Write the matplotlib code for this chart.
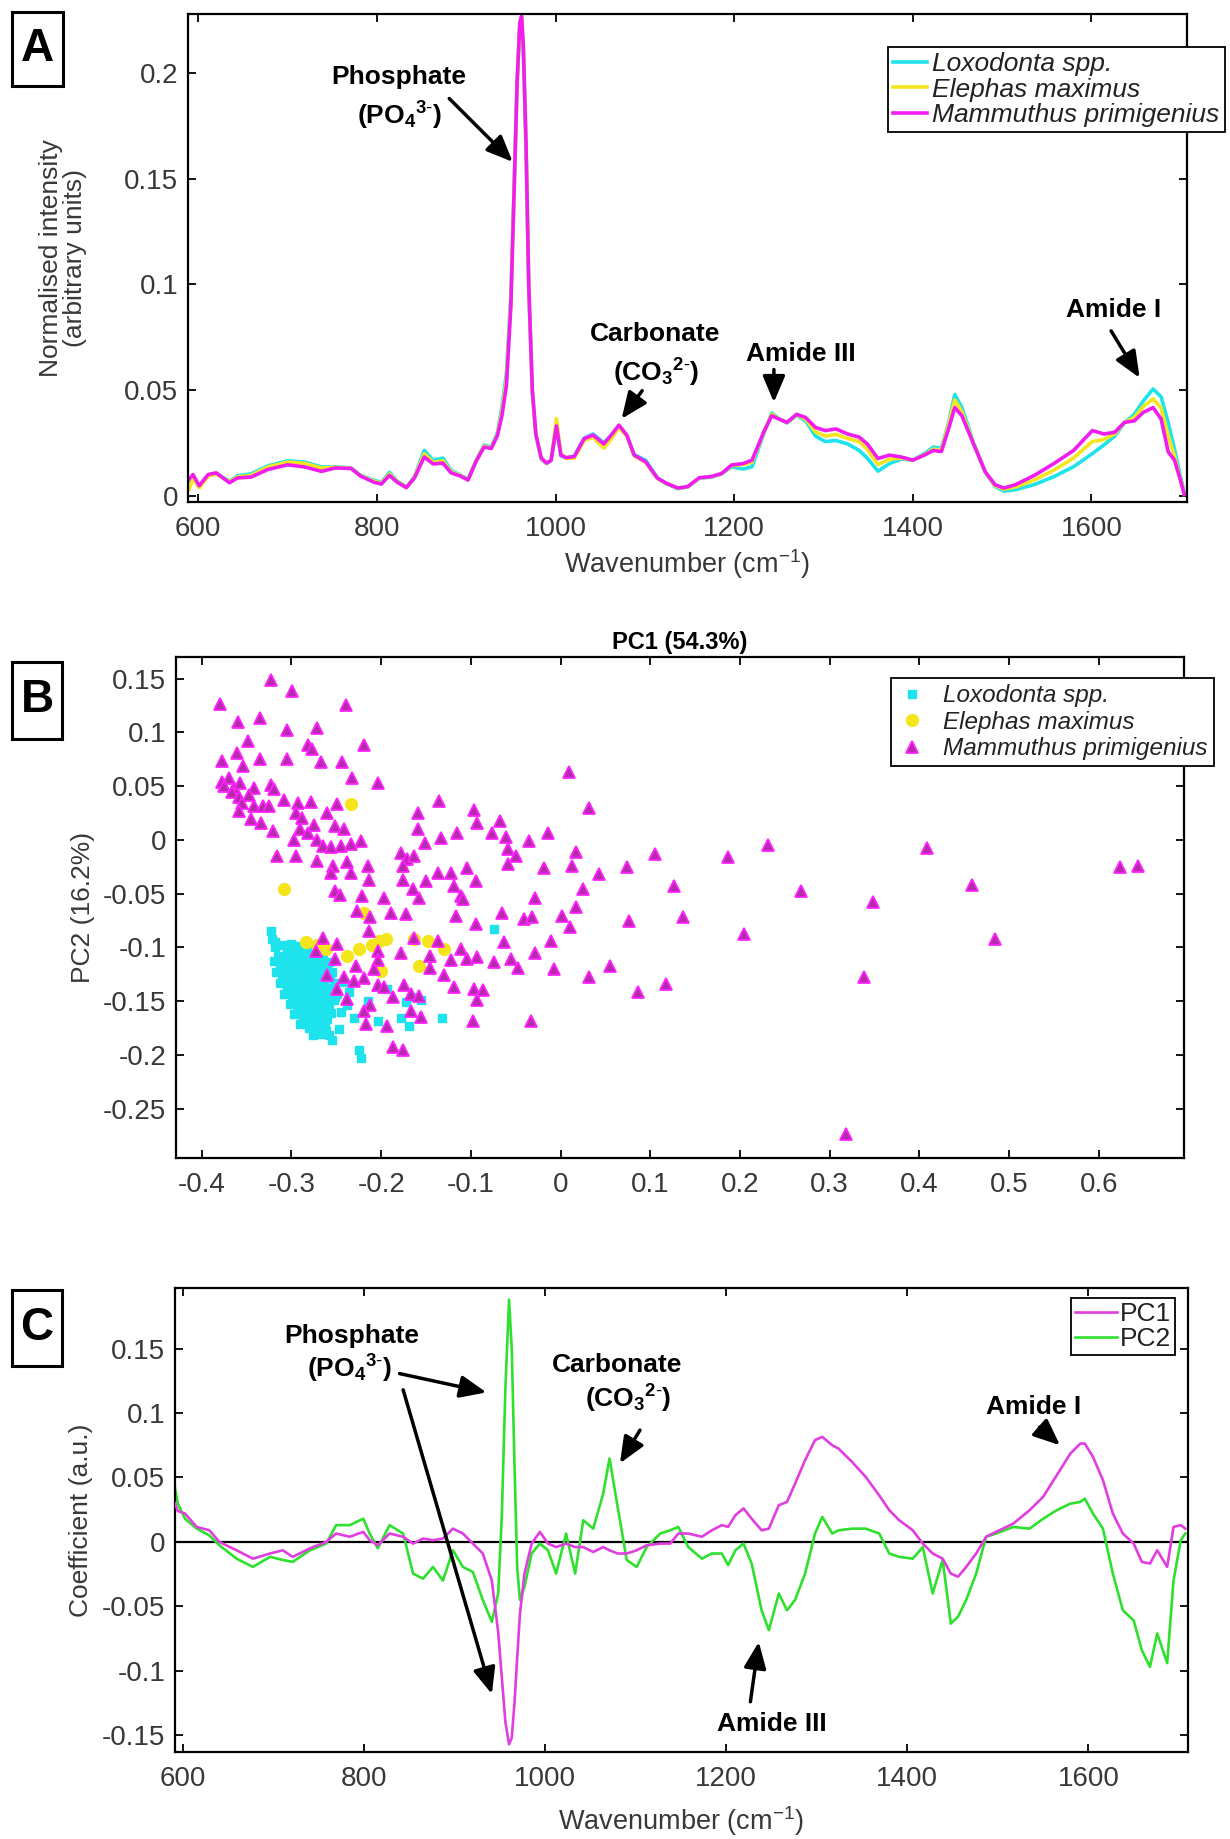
import numpy as np
import matplotlib
matplotlib.use('Agg')
import matplotlib.pyplot as plt
from matplotlib.patches import Rectangle

plt.rcParams['font.family'] = ['Liberation Sans', 'DejaVu Sans']
plt.rcParams['mathtext.fontset'] = 'custom'
plt.rcParams['mathtext.rm'] = 'Liberation Sans'
plt.rcParams['mathtext.bf'] = 'Liberation Sans:bold'
plt.rcParams['mathtext.it'] = 'Liberation Sans:italic'
plt.rcParams['mathtext.default'] = 'regular'

# ---- panel A: mean spectra ----
wn = [590, 594, 601, 611, 620, 635, 644, 659, 678, 700,
      719, 738, 753, 771, 782, 797, 805, 814, 823, 833,
      842, 853, 863, 874, 883, 894, 902, 911, 920, 928,
      935, 940, 945, 950, 954, 957, 960, 962, 964, 967,
      970, 974, 978, 984, 990, 995, 1001, 1006, 1012, 1021,
      1032, 1042, 1054, 1062, 1071, 1080, 1088, 1101, 1114, 1124,
      1137, 1148, 1161, 1174, 1186, 1197, 1210, 1220, 1233, 1242,
      1250, 1259, 1270, 1280, 1291, 1302, 1314, 1327, 1340, 1349,
      1361, 1374, 1387, 1400, 1413, 1423, 1432, 1440, 1447, 1455,
      1468, 1481, 1492, 1502, 1515, 1537, 1558, 1580, 1601, 1614,
      1626, 1637, 1648, 1658, 1669, 1678, 1686, 1693, 1699, 1704]

loxodonta = [0.0063, 0.0089, 0.0042, 0.0094, 0.0105, 0.0068, 0.0094, 0.0103, 0.0141, 0.0165,
             0.0159, 0.0136, 0.0136, 0.0132, 0.0096, 0.0072, 0.0063, 0.0110, 0.0068, 0.0042,
             0.0089, 0.0214, 0.0167, 0.0178, 0.0120, 0.0096, 0.0079, 0.0167, 0.0240, 0.0230,
             0.0300, 0.0420, 0.0580, 0.0950, 0.1520, 0.1960, 0.2220, 0.2250, 0.2100, 0.1640,
             0.0980, 0.0490, 0.0285, 0.0172, 0.0152, 0.0167, 0.0323, 0.0188, 0.0178, 0.0188,
             0.0272, 0.0292, 0.0251, 0.0282, 0.0329, 0.0282, 0.0194, 0.0168, 0.0085, 0.0056,
             0.0033, 0.0041, 0.0083, 0.0087, 0.0103, 0.0137, 0.0126, 0.0137, 0.0292, 0.0391,
             0.0365, 0.0344, 0.0380, 0.0354, 0.0282, 0.0256, 0.0261, 0.0245, 0.0214, 0.0178,
             0.0116, 0.0152, 0.0173, 0.0168, 0.0199, 0.0230, 0.0225, 0.0344, 0.0479, 0.0417,
             0.0251, 0.0111, 0.0043, 0.0022, 0.0028, 0.0054, 0.0090, 0.0137, 0.0199, 0.0240,
             0.0282, 0.0344, 0.0385, 0.0448, 0.0505, 0.0468, 0.0344, 0.0220, 0.0105, 0.0012]

elephas = [0.0032, 0.0084, 0.0037, 0.0092, 0.0103, 0.0065, 0.0089, 0.0096, 0.0136, 0.0159,
           0.0153, 0.0131, 0.0134, 0.0130, 0.0094, 0.0068, 0.0059, 0.0103, 0.0065, 0.0040,
           0.0086, 0.0198, 0.0157, 0.0165, 0.0113, 0.0094, 0.0076, 0.0165, 0.0235, 0.0225,
           0.0292, 0.0400, 0.0550, 0.0920, 0.1500, 0.1950, 0.2230, 0.2260, 0.2110, 0.1650,
           0.0990, 0.0495, 0.0288, 0.0175, 0.0153, 0.0169, 0.0365, 0.0198, 0.0176, 0.0178,
           0.0261, 0.0276, 0.0225, 0.0266, 0.0323, 0.0280, 0.0188, 0.0157, 0.0081, 0.0058,
           0.0035, 0.0042, 0.0084, 0.0089, 0.0104, 0.0142, 0.0147, 0.0159, 0.0297, 0.0385,
           0.0363, 0.0346, 0.0383, 0.0362, 0.0302, 0.0282, 0.0290, 0.0271, 0.0256, 0.0220,
           0.0147, 0.0173, 0.0178, 0.0168, 0.0194, 0.0220, 0.0217, 0.0334, 0.0453, 0.0396,
           0.0248, 0.0112, 0.0047, 0.0031, 0.0041, 0.0076, 0.0121, 0.0178, 0.0256, 0.0266,
           0.0292, 0.0346, 0.0370, 0.0422, 0.0458, 0.0416, 0.0282, 0.0188, 0.0090, 0.0007]

mammuthus = [0.0079, 0.0100, 0.0047, 0.0100, 0.0108, 0.0061, 0.0084, 0.0088, 0.0124, 0.0146,
             0.0136, 0.0115, 0.0131, 0.0129, 0.0092, 0.0063, 0.0055, 0.0096, 0.0063, 0.0038,
             0.0084, 0.0183, 0.0150, 0.0154, 0.0108, 0.0092, 0.0074, 0.0162, 0.0230, 0.0223,
             0.0285, 0.0380, 0.0520, 0.0900, 0.1500, 0.1960, 0.2240, 0.2270, 0.2120, 0.1660,
             0.1000, 0.0500, 0.0290, 0.0178, 0.0154, 0.0167, 0.0330, 0.0192, 0.0180, 0.0185,
             0.0270, 0.0287, 0.0245, 0.0285, 0.0334, 0.0285, 0.0192, 0.0160, 0.0083, 0.0059,
             0.0036, 0.0043, 0.0085, 0.0090, 0.0105, 0.0145, 0.0152, 0.0168, 0.0300, 0.0378,
             0.0363, 0.0347, 0.0385, 0.0370, 0.0323, 0.0308, 0.0316, 0.0292, 0.0277, 0.0245,
             0.0176, 0.0192, 0.0183, 0.0168, 0.0192, 0.0214, 0.0209, 0.0316, 0.0417, 0.0378,
             0.0245, 0.0114, 0.0052, 0.0036, 0.0052, 0.0098, 0.0152, 0.0214, 0.0308, 0.0292,
             0.0300, 0.0347, 0.0354, 0.0394, 0.0417, 0.0363, 0.0207, 0.0168, 0.0083, 0.0005]

species = ['Loxodonta spp.', 'Elephas maximus', 'Mammuthus primigenius']

# ---- panel B: PCA scores ----
lox_pc1 = [-0.323, -0.322, -0.318, -0.310, -0.300, -0.290, -0.280, -0.270,
           -0.315, -0.305, -0.296, -0.286, -0.276, -0.266, -0.258,
           -0.313, -0.303, -0.294, -0.284, -0.274, -0.264, -0.255,
           -0.310, -0.300, -0.291, -0.281, -0.271, -0.261, -0.252,
           -0.305, -0.296, -0.287, -0.277, -0.267, -0.257, -0.249,
           -0.299, -0.290, -0.281, -0.271, -0.262, -0.253,
           -0.293, -0.284, -0.275, -0.265, -0.256,
           -0.287, -0.278, -0.269, -0.260,
           -0.280, -0.272, -0.263, -0.268, -0.258, -0.255,
           -0.318, -0.305, -0.295, -0.285, -0.275, -0.265,
           -0.320, -0.309, -0.299, -0.289, -0.279, -0.269, -0.260,
           -0.317, -0.307, -0.297, -0.287, -0.277, -0.267, -0.257,
           -0.313, -0.303, -0.294, -0.284, -0.274, -0.264, -0.254,
           -0.308, -0.299, -0.290, -0.280, -0.270, -0.260, -0.251,
           -0.302, -0.294, -0.285, -0.276, -0.267, -0.258,
           -0.297, -0.289, -0.280, -0.270, -0.261,
           -0.290, -0.283, -0.274, -0.265,
           -0.276, -0.262,
           -0.247, -0.238, -0.230, -0.241, -0.225, -0.223, -0.204, -0.178, -0.169,
           -0.172, -0.132, -0.074, -0.163, -0.156, -0.193, -0.215, -0.245, -0.236]
lox_pc2 = [-0.085, -0.092, -0.100, -0.098, -0.097, -0.099, -0.100, -0.103,
           -0.108, -0.106, -0.110, -0.107, -0.109, -0.111, -0.114,
           -0.118, -0.116, -0.120, -0.118, -0.121, -0.119, -0.123,
           -0.128, -0.126, -0.130, -0.128, -0.131, -0.129, -0.133,
           -0.138, -0.136, -0.140, -0.138, -0.141, -0.139, -0.143,
           -0.148, -0.146, -0.150, -0.148, -0.151, -0.149,
           -0.158, -0.156, -0.160, -0.158, -0.161,
           -0.167, -0.165, -0.169, -0.167,
           -0.175, -0.177, -0.174, -0.181, -0.182, -0.186,
           -0.095, -0.102, -0.103, -0.103, -0.105, -0.106,
           -0.113, -0.112, -0.114, -0.113, -0.115, -0.115, -0.118,
           -0.123, -0.122, -0.124, -0.123, -0.125, -0.125, -0.128,
           -0.133, -0.132, -0.134, -0.133, -0.135, -0.135, -0.138,
           -0.143, -0.142, -0.144, -0.143, -0.145, -0.144, -0.146,
           -0.153, -0.152, -0.154, -0.153, -0.155, -0.155,
           -0.162, -0.161, -0.163, -0.163, -0.164,
           -0.171, -0.170, -0.172, -0.172,
           -0.182, -0.178,
           -0.176, -0.154, -0.166, -0.132, -0.196, -0.203, -0.169, -0.166, -0.173,
           -0.151, -0.166, -0.083, -0.146, -0.149, -0.139, -0.150, -0.160, -0.142]

ele_pc1 = [-0.234, -0.308, -0.219, -0.284, -0.262, -0.238, -0.225, -0.202,
           -0.195, -0.200, -0.163, -0.148, -0.130, -0.158, -0.272, -0.210]
ele_pc2 = [0.033, -0.046, -0.068, -0.095, -0.102, -0.108, -0.102, -0.094,
           -0.092, -0.122, -0.092, -0.094, -0.102, -0.117, -0.098, -0.098]

mam_pc1 = [-0.323, -0.299, -0.380, -0.239, -0.360, -0.335, -0.305, -0.272, -0.348, -0.282,
           -0.277, -0.219, -0.361, -0.377, -0.335, -0.305, -0.354, -0.267, -0.244, -0.233,
           -0.203, 0.009, -0.377, -0.370, -0.375, -0.364, -0.357, -0.366, -0.358, -0.342,
           -0.347, -0.323, -0.319, -0.355, -0.342, -0.332, -0.325, -0.358, -0.345, -0.334,
           -0.308, -0.293, -0.278, -0.321, -0.316, -0.295, -0.288, -0.297, -0.295, -0.290,
           -0.282, -0.275, -0.271, -0.260, -0.249, -0.251, -0.241, -0.265, -0.256, -0.245,
           -0.234, -0.223, -0.271, -0.254, -0.238, -0.215, -0.256, -0.234, -0.213, -0.252,
           -0.246, -0.221, -0.197, -0.227, -0.212, -0.189, -0.172, -0.213, -0.159, -0.135,
           -0.096, -0.093, -0.067, 0.032, -0.159, -0.151, -0.133, -0.115, -0.076, -0.061,
           -0.035, -0.014, -0.059, -0.050, 0.017, -0.059, -0.178, -0.171, -0.176, -0.163,
           -0.018, 0.013, -0.137, -0.122, -0.104, -0.176, -0.150, -0.094, -0.165, -0.158,
           -0.119, -0.111, -0.109, 0.025, -0.028, -0.117, -0.094, -0.065, -0.041, -0.032,
           0.002, 0.017, 0.011, -0.063, -0.011, -0.265, -0.249, -0.163, -0.137, -0.273,
           -0.251, -0.204, -0.204, -0.228, -0.208, -0.178, -0.145, -0.145, -0.122, -0.111,
           -0.104, -0.093, -0.074, -0.055, -0.048, -0.028, -0.007, 0.032, -0.260, -0.241,
           -0.230, -0.219, -0.204, -0.197, -0.249, -0.238, -0.187, -0.174, -0.167, -0.158,
           -0.130, -0.119, -0.096, -0.087, -0.093, -0.212, -0.219, -0.167, -0.156, -0.217,
           -0.193, -0.098, -0.033, -0.187, -0.176,
           0.043, 0.074, 0.105, 0.127, 0.136, 0.076, 0.055, 0.086, 0.117, 0.187,
           0.231, 0.205, 0.268, 0.348, 0.338, 0.318, 0.409, 0.459, 0.484, 0.624, 0.644]
mam_pc2 = [0.149, 0.138, 0.126, 0.125, 0.110, 0.113, 0.102, 0.104, 0.092, 0.088,
           0.084, 0.088, 0.081, 0.073, 0.075, 0.075, 0.069, 0.072, 0.072, 0.057,
           0.053, 0.063, 0.054, 0.057, 0.050, 0.048, 0.053, 0.044, 0.040, 0.048,
           0.042, 0.051, 0.047, 0.034, 0.031, 0.031, 0.031, 0.027, 0.019, 0.016,
           0.037, 0.034, 0.035, 0.008, -0.015, 0.025, 0.020, 0.000, -0.015, 0.010,
           0.006, 0.014, 0.000, 0.025, 0.033, 0.013, 0.010, -0.006, -0.007, -0.006,
           -0.004, -0.001, -0.020, -0.024, -0.021, -0.024, -0.031, -0.031, -0.037, -0.048,
           -0.051, -0.052, -0.054, -0.066, -0.072, -0.068, -0.069, -0.085, 0.025, 0.036,
           0.028, 0.016, 0.017, 0.030, 0.010, -0.003, 0.002, 0.006, 0.006, 0.003,
           -0.001, 0.006, -0.009, -0.015, -0.011, -0.023, -0.012, -0.018, -0.024, -0.015,
           -0.026, -0.024, -0.031, -0.031, -0.026, -0.037, -0.038, -0.038, -0.046, -0.054,
           -0.043, -0.052, -0.055, -0.046, -0.054, -0.071, -0.078, -0.068, -0.074, -0.072,
           -0.071, -0.063, -0.081, -0.095, -0.094, -0.091, -0.097, -0.091, -0.094, -0.103,
           -0.111, -0.103, -0.112, -0.117, -0.120, -0.105, -0.108, -0.119, -0.112, -0.102,
           -0.111, -0.109, -0.114, -0.111, -0.119, -0.105, -0.120, -0.128, -0.126, -0.128,
           -0.131, -0.129, -0.135, -0.137, -0.139, -0.148, -0.146, -0.135, -0.143, -0.145,
           -0.126, -0.137, -0.139, -0.140, -0.149, -0.154, -0.159, -0.159, -0.165, -0.171,
           -0.173, -0.169, -0.169, -0.193, -0.196,
           -0.032, -0.025, -0.013, -0.043, -0.072, -0.076, -0.117, -0.142, -0.134, -0.016,
           -0.005, -0.088, -0.048, -0.058, -0.128, -0.274, -0.008, -0.042, -0.092, -0.025, -0.024]

# ---- panel C: PCA loadings ----
pc_wn = [591, 594, 602, 615, 629, 640, 659, 677, 696, 710,
         721, 740, 758, 769, 784, 799, 806, 815, 828, 843,
         854, 865, 876, 887, 898, 909, 920, 931, 941, 948,
         952, 956, 960, 963, 966, 969, 972, 977, 985, 994,
         1003, 1012, 1023, 1033, 1042, 1053, 1064, 1071, 1080, 1090,
         1101, 1112, 1127, 1138, 1147, 1158, 1173, 1184, 1195, 1202,
         1210, 1219, 1228, 1239, 1247, 1258, 1267, 1276, 1287, 1298,
         1306, 1317, 1324, 1339, 1354, 1369, 1380, 1391, 1406, 1417,
         1428, 1439, 1448, 1456, 1465, 1476, 1487, 1498, 1517, 1535,
         1550, 1565, 1580, 1591, 1596, 1605, 1616, 1627, 1638, 1650,
         1659, 1668, 1676, 1687, 1694, 1702, 1707]
pc1_load = [0.030, 0.024, 0.022, 0.0116, 0.009, 0.000, -0.0065, -0.013, -0.009, -0.0065,
            -0.0116, -0.005, 0.000, 0.0065, 0.004, 0.0078, 0.0013, -0.0026, 0.0065, 0.004,
            -0.0013, 0.0026, 0.0013, 0.0026, 0.0103, 0.0065, -0.0013, -0.009, -0.030, -0.070,
            -0.105, -0.140, -0.157, -0.152, -0.125, -0.090, -0.056, -0.0246, -0.0013, 0.0078,
            -0.0013, -0.004, -0.0013, -0.004, -0.004, -0.0078, -0.004, -0.0065, -0.009, -0.009,
            -0.0065, -0.0026, -0.0013, -0.0013, 0.0065, 0.0065, 0.004, 0.009, 0.013, 0.0116,
            0.0207, 0.026, 0.018, 0.009, 0.0103, 0.0285, 0.031, 0.0453, 0.0634, 0.079,
            0.0815, 0.075, 0.0724, 0.062, 0.0504, 0.036, 0.0246, 0.0168, 0.009, -0.0013,
            -0.009, -0.013, -0.0246, -0.027, -0.0194, -0.009, 0.004, 0.0078, 0.0142, 0.0246,
            0.035, 0.0517, 0.0685, 0.0763, 0.0763, 0.066, 0.048, 0.022, 0.0065, -0.0013,
            -0.0155, -0.0168, -0.0065, -0.0194, 0.0116, 0.013, 0.0103]
pc2_load = [0.042, 0.030, 0.018, 0.0103, 0.005, -0.0026, -0.013, -0.0194, -0.0116, -0.014,
            -0.0155, -0.0065, -0.0013, 0.013, 0.013, 0.018, 0.0065, -0.005, 0.013, 0.0065,
            -0.0246, -0.0285, -0.0194, -0.030, -0.0065, -0.0194, -0.0233, -0.045, -0.062, -0.040,
            0.020, 0.120, 0.188, 0.150, 0.060, -0.020, -0.045, -0.035, -0.009, -0.0013,
            -0.0065, -0.0246, 0.0065, -0.0246, 0.0168, 0.0103, 0.0375, 0.0647, 0.027, -0.014,
            -0.0194, -0.004, 0.0065, 0.009, 0.0116, -0.004, -0.013, -0.009, -0.009, -0.018,
            -0.0065, -0.0013, -0.0168, -0.053, -0.0685, -0.040, -0.053, -0.045, -0.0246, 0.0065,
            0.0194, 0.0065, 0.009, 0.0103, 0.0103, 0.0065, -0.009, -0.0116, -0.013, -0.004,
            -0.040, -0.014, -0.0634, -0.058, -0.045, -0.0246, 0.004, 0.0065, 0.0116, 0.0103,
            0.018, 0.0246, 0.0297, 0.031, 0.0336, 0.022, 0.0103, -0.0246, -0.053, -0.061,
            -0.084, -0.097, -0.071, -0.094, -0.030, 0.0013, 0.0065]

# tick labels (MATLAB style, plain hyphen)
wn_ticks = [600, 800, 1000, 1200, 1400, 1600]
a_yticks = [0, 0.05, 0.1, 0.15, 0.2]
a_ylabels = ['0', '0.05', '0.1', '0.15', '0.2']
b_xticks = [-0.4, -0.3, -0.2, -0.1, 0, 0.1, 0.2, 0.3, 0.4, 0.5, 0.6]
b_xlabels = ['-0.4', '-0.3', '-0.2', '-0.1', '0', '0.1', '0.2', '0.3', '0.4', '0.5', '0.6']
b_yticks = [-0.25, -0.2, -0.15, -0.1, -0.05, 0, 0.05, 0.1, 0.15]
b_ylabels = ['-0.25', '-0.2', '-0.15', '-0.1', '-0.05', '0', '0.05', '0.1', '0.15']
c_yticks = [-0.15, -0.1, -0.05, 0, 0.05, 0.1, 0.15]
c_ylabels = ['-0.15', '-0.1', '-0.05', '0', '0.05', '0.1', '0.15']

CYAN = '#1fe3ec'
YELLOW = '#f5e51c'
MAGENTA = '#f01cf0'
TICKC = '#383838'

W, H = 1230, 1839
fig = plt.figure(figsize=(W / 100, H / 100), dpi=100)


def ax_px(l, t, r, b):
    return fig.add_axes([l / W, 1 - b / H, (r - l) / W, (b - t) / H])


def style(ax):
    for s in ax.spines.values():
        s.set_linewidth(1.6)
    ax.tick_params(direction='in', top=True, right=True, length=6, width=1.3,
                   labelsize=20, labelcolor=TICKC)
    ax.tick_params(axis='x', pad=10)
    ax.tick_params(axis='y', pad=7)


def panel_letter(letter, l, t, r, b):
    fig.patches.append(Rectangle((l / W, 1 - b / H), (r - l) / W, (b - t) / H,
                                 transform=fig.transFigure, fill=False,
                                 edgecolor='k', lw=2.2))
    fig.text((l + r) / 2 / W, 1 - (t + b) / 2 / H, letter, ha='center', va='center',
             fontsize=33, fontweight='bold')


arrow = dict(arrowstyle='-|>,head_length=0.8,head_width=0.34', color='k', lw=2.5,
             mutation_scale=20, shrinkA=0, shrinkB=0)


def note(ax, tip, tail):
    ax.annotate('', xy=tip, xytext=tail, arrowprops=arrow)


def label(ax, x, y, s):
    ax.text(x, y, s, ha='center', va='center', fontsize=19, fontweight='bold')


PO4 = r'(PO$_\mathbf{4}$$^{\mathbf{3}\text{-}}$)'
CO3 = r'(CO$_\mathbf{3}$$^{\mathbf{2}\text{-}}$)'

# ---------------- A ----------------
axA = ax_px(188, 14, 1187, 502)
axA.plot(wn, loxodonta, color=CYAN, lw=2.6, label=species[0])
axA.plot(wn, elephas, color=YELLOW, lw=2.6, label=species[1])
axA.plot(wn, mammuthus, color=MAGENTA, lw=2.6, label=species[2])
axA.set_xlim(588.5, 1707)
axA.set_ylim(-0.003, 0.228)
axA.set_xticks(wn_ticks)
axA.set_yticks(a_yticks, labels=a_ylabels)
style(axA)
axA.set_xlabel('Wavenumber (cm$^{-1}$)', fontsize=19.5, color=TICKC, va='center')
axA.xaxis.set_label_coords(0.5, -0.127)
axA.set_ylabel('Normalised intensity\n(arbitrary units)', fontsize=19, color=TICKC,
               va='center', linespacing=1.0)
axA.yaxis.set_label_coords(-0.125, 0.5)

label(axA, 825, 0.1983, 'Phosphate')
label(axA, 825, 0.1800, PO4)
note(axA, (952, 0.158), (881, 0.188))
label(axA, 1111, 0.0763, 'Carbonate')
label(axA, 1113, 0.0580, CO3)
note(axA, (1074, 0.0364), (1097, 0.0497))
label(axA, 1275, 0.0669, 'Amide III')
note(axA, (1244.5, 0.0442), (1244.5, 0.0597))
label(axA, 1625, 0.0880, 'Amide I')
note(axA, (1654, 0.0558), (1622, 0.0780))

legA = axA.legend(loc='upper right', bbox_to_anchor=(1225 / W, 1 - 47 / H),
                  bbox_transform=fig.transFigure, prop=dict(style='italic', size=19),
                  fancybox=False, edgecolor='k', framealpha=1, borderpad=0.2,
                  labelspacing=0.05, handlelength=1.3, handletextpad=0.2, borderaxespad=0)
legA.get_frame().set_linewidth(1.3)
for t in legA.get_texts():
    t.set_color('#222222')
panel_letter('A', 12, 12, 63, 86)

# ---------------- B ----------------
axB = ax_px(176, 657, 1184, 1158)
axB.plot(lox_pc1, lox_pc2, ls='none', marker='s', ms=5.5, color=CYAN, mec=CYAN,
         label=species[0])
axB.plot(ele_pc1, ele_pc2, ls='none', marker='o', ms=8.5, color=YELLOW, mec=YELLOW,
         label=species[1])
axB.plot(mam_pc1, mam_pc2, ls='none', marker='^', ms=8.5, mfc='#b62aac', mec='#ff22ff',
         mew=1.3, label=species[2])
axB.set_xlim(-0.4287, 0.695)
axB.set_ylim(-0.296, 0.170)
axB.set_xticks(b_xticks, labels=b_xlabels)
axB.set_yticks(b_yticks, labels=b_ylabels)
style(axB)
axB.set_title('PC1 (54.3%)', fontsize=17, fontweight='bold', pad=6)
axB.set_ylabel('PC2 (16.2%)', fontsize=19, color=TICKC, va='center')
axB.yaxis.set_label_coords(-0.092, 0.5)
legB = axB.legend(loc='upper right', bbox_to_anchor=(1214 / W, 1 - 678 / H),
                  bbox_transform=fig.transFigure, prop=dict(style='italic', size=17.5),
                  fancybox=False, edgecolor='k', framealpha=1, borderpad=0.25,
                  labelspacing=0.15, handlelength=1.2, handletextpad=0.7, borderaxespad=0)
legB.get_frame().set_linewidth(1.3)
for t in legB.get_texts():
    t.set_color('#222222')
panel_letter('B', 12, 662, 62, 739)

# ---------------- C ----------------
axC = ax_px(175, 1288, 1188, 1752)
axC.axhline(0, color='k', lw=1.6, zorder=1)
axC.plot(pc_wn, pc1_load, color='#e03ee0', lw=1.9, label='PC1', zorder=3)
axC.plot(pc_wn, pc2_load, color='#2fe02f', lw=1.9, label='PC2', zorder=2)
axC.set_xlim(591, 1710)
axC.set_ylim(-0.163, 0.197)
axC.set_xticks(wn_ticks)
axC.set_yticks(c_yticks, labels=c_ylabels)
style(axC)
axC.set_xlabel('Wavenumber (cm$^{-1}$)', fontsize=19.5, color=TICKC, va='center')
axC.xaxis.set_label_coords(0.5, -0.150)
axC.set_ylabel('Coefficient (a.u.)', fontsize=19, color=TICKC, va='center')
axC.yaxis.set_label_coords(-0.093, 0.5)

label(axC, 786, 0.160, 'Phosphate')
label(axC, 784, 0.1345, PO4)
note(axC, (935, 0.116), (839, 0.1306))
note(axC, (941, -0.118), (843, 0.118))
label(axC, 1079, 0.137, 'Carbonate')
label(axC, 1092, 0.111, CO3)
note(axC, (1082.5, 0.061), (1104.6, 0.0867))
label(axC, 1539, 0.105, 'Amide I')
note(axC, (1568.6, 0.075), (1546, 0.089))
label(axC, 1250.6, -0.141, 'Amide III')
note(axC, (1235.9, -0.0776), (1226.6, -0.124))

legC = axC.legend(loc='upper right', bbox_to_anchor=(1175 / W, 1 - 1298 / H),
                  bbox_transform=fig.transFigure, prop=dict(size=19),
                  fancybox=False, edgecolor='k', framealpha=1, borderpad=0.15,
                  labelspacing=0.05, handlelength=1.6, handletextpad=0.1, borderaxespad=0)
legC.get_frame().set_linewidth(1.3)
for t in legC.get_texts():
    t.set_color('#222222')
panel_letter('C', 12, 1290, 62, 1366)

fig.savefig('out.png', dpi=100)
